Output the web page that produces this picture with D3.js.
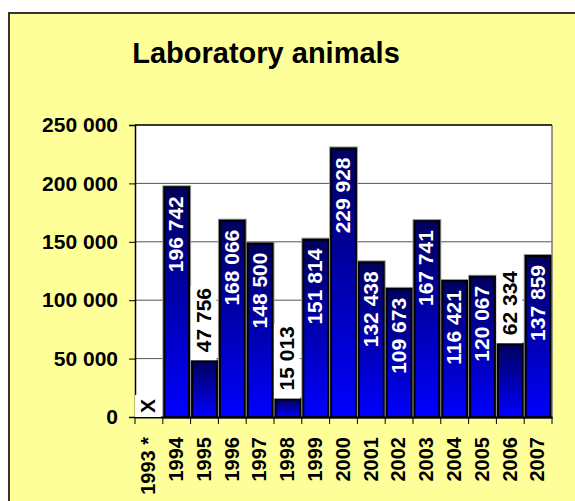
<!doctype html>
<html>

<head>
    <title>Laboratory animals</title>
    <script src="https://cdnjs.cloudflare.com/ajax/libs/d3/7.8.5/d3.min.js"></script>
    <style>
        body { margin: 0; background: #fff; }
        text { font-family: "Liberation Sans", Arial, sans-serif; font-weight: bold; }
    </style>
</head>

<body>
    <svg width="575" height="501"></svg>
    <script>
        var years = ["1993 *", "1994", "1995", "1996", "1997", "1998", "1999", "2000",
            "2001", "2002", "2003", "2004", "2005", "2006", "2007"];
        var animals = [null, 196742, 47756, 168066, 148500, 15013, 151814, 229928,
            132438, 109673, 167741, 116421, 120067, 62334, 137859];
        var yTicks = [0, 50000, 100000, 150000, 200000, 250000];

        var svg = d3.select("svg");

        // yellow chart area with frame
        svg.append("rect")
            .attr("x", 9).attr("y", 13)
            .attr("width", 620).attr("height", 520)
            .attr("fill", "#ffff99")
            .attr("stroke", "#333").attr("stroke-width", 2);

        svg.append("text")
            .attr("x", 266).attr("y", 63)
            .attr("text-anchor", "middle")
            .style("font-size", "29px")
            .text("Laboratory animals");

        var pLeft = 135, pTop = 125, pRight = 552, pBottom = 417;

        var x = d3.scaleBand().domain(years).range([pLeft, pRight]);
        var y = d3.scaleLinear().domain([0, 250000]).range([pBottom, pTop]);

        var defs = svg.append("defs");
        var grad = defs.append("linearGradient")
            .attr("id", "barGrad")
            .attr("x1", 0).attr("y1", 0).attr("x2", 0).attr("y2", 1);
        grad.append("stop").attr("offset", "0%").attr("stop-color", "#00005e");
        grad.append("stop").attr("offset", "100%").attr("stop-color", "#0000ff");

        // plot background
        svg.append("rect")
            .attr("x", pLeft).attr("y", pTop)
            .attr("width", pRight - pLeft).attr("height", pBottom - pTop)
            .attr("fill", "#fff");

        // gridlines
        svg.append("g")
            .selectAll("line")
            .data(yTicks.slice(1))
            .enter().append("line")
            .attr("x1", pLeft).attr("x2", pRight)
            .attr("y1", function (d) { return y(d); })
            .attr("y2", function (d) { return y(d); })
            .attr("stroke", "#555").attr("stroke-width", 1);

        svg.append("line")
            .attr("x1", pRight).attr("x2", pRight)
            .attr("y1", pTop).attr("y2", pBottom)
            .attr("stroke", "#777").attr("stroke-width", 1.5);
        svg.append("line")
            .attr("x1", pLeft).attr("x2", pRight)
            .attr("y1", pTop).attr("y2", pTop)
            .attr("stroke", "#111").attr("stroke-width", 1.5);

        var data = years.map(function (d, i) { return { year: d, value: animals[i] }; });
        var bars = data.filter(function (d) { return d.value !== null; });

        // bar shadows then bars
        svg.append("g")
            .selectAll("rect")
            .data(bars)
            .enter().append("rect")
            .attr("x", function (d) { return x(d.year) + 1.5; })
            .attr("y", function (d) { return y(d.value); })
            .attr("width", x.bandwidth() - 3)
            .attr("height", function (d) { return pBottom - y(d.value); })
            .attr("fill", "none")
            .attr("stroke", "#999").attr("stroke-width", 4);

        svg.append("g")
            .selectAll("rect")
            .data(bars)
            .enter().append("rect")
            .attr("x", function (d) { return x(d.year) + 1.5; })
            .attr("y", function (d) { return y(d.value); })
            .attr("width", x.bandwidth() - 3)
            .attr("height", function (d) { return pBottom - y(d.value); })
            .attr("fill", "url(#barGrad)")
            .attr("stroke", "#000").attr("stroke-width", 2);

        // axes
        var yAxis = svg.append("g")
            .attr("transform", "translate(" + pLeft + ",0)")
            .call(d3.axisLeft(y).tickValues(yTicks).tickSize(6).tickPadding(11)
                .tickFormat(function (d) { return d3.format(",")(d).replace(/,/g, " "); }));
        yAxis.select(".domain").attr("stroke", "#000").attr("stroke-width", 1.5);
        yAxis.selectAll(".tick line").attr("stroke", "#000");
        yAxis.selectAll("text")
            .attr("fill", "#000")
            .style("font-size", "21px");

        var xAxis = svg.append("g")
            .attr("transform", "translate(0," + pBottom + ")")
            .call(d3.axisBottom(x).tickSize(0).tickFormat(""));
        xAxis.select(".domain").attr("stroke", "#000").attr("stroke-width", 2);

        // ticks at category boundaries
        svg.append("g")
            .selectAll("line")
            .data(years.concat(["end"]))
            .enter().append("line")
            .attr("x1", function (d, i) { return pLeft + i * x.bandwidth(); })
            .attr("x2", function (d, i) { return pLeft + i * x.bandwidth(); })
            .attr("y1", pBottom).attr("y2", pBottom + 7)
            .attr("stroke", "#000");

        svg.append("g")
            .selectAll("text")
            .data(years)
            .enter().append("text")
            .attr("transform", function (d) {
                return "translate(" + (x(d) + x.bandwidth() / 2 - 1) + "," + (pBottom + 20) + ") rotate(-90)";
            })
            .attr("dy", "0.36em")
            .attr("text-anchor", "end")
            .style("font-size", "20px")
            .text(function (d) { return d; });

        // value labels
        var fmt = function (v) { return v === null ? "X" : d3.format(",")(v).replace(/,/g, " "); };
        var labels = svg.append("g");
        data.forEach(function (d) {
            var cx = x(d.year) + x.bandwidth() / 2 - 1;
            var label = fmt(d.value);
            var inside = d.value !== null && d.value > 100000;
            var g = labels.append("g");
            var t = g.append("text")
                .attr("dy", "0.36em")
                .style("font-size", "21px")
                .text(label);
            if (inside) {
                g.attr("transform", "translate(" + cx + "," + (y(d.value) + 9) + ") rotate(-90)");
                t.attr("text-anchor", "end").attr("fill", "#fff");
            } else {
                var base = d.value === null ? pBottom - 4 : y(d.value) - 9;
                g.attr("transform", "translate(" + cx + "," + base + ") rotate(-90)");
                t.attr("text-anchor", "start").attr("fill", "#000");
                var len = t.node().getComputedTextLength();
                g.insert("rect", "text")
                    .attr("x", d.value === null ? -4 : -8)
                    .attr("y", -x.bandwidth() / 2 + 1)
                    .attr("width", len + (d.value === null ? 8 : 10))
                    .attr("height", x.bandwidth() - 2)
                    .attr("fill", "#fff");
            }
        });
    </script>
</body>

</html>
